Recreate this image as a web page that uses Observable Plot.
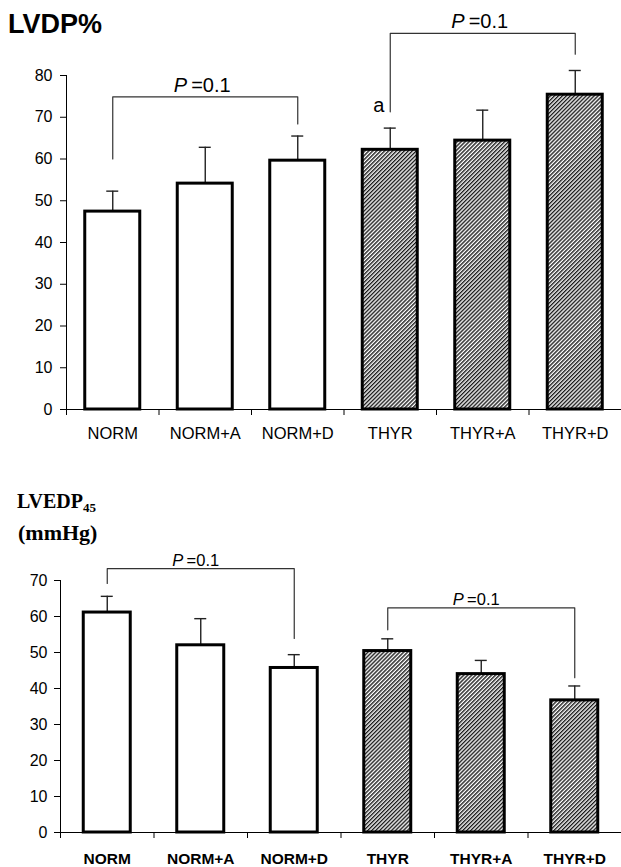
<!DOCTYPE html>
<html><head><meta charset="utf-8">
<script src="https://cdn.jsdelivr.net/npm/d3@7"></script>
<script src="https://cdn.jsdelivr.net/npm/@observablehq/plot@0.6"></script>
<style>
body{margin:0;background:#fff;}
#wrap{position:relative;width:621px;height:867px;overflow:hidden;background:#fff;font-family:"Liberation Sans",Arial,sans-serif;color:#000;}
.abs{position:absolute;line-height:1;white-space:nowrap;}
#wrap svg{overflow:visible;}
</style></head><body>
<div id="wrap">
<svg width="0" height="0" style="position:absolute"><defs>
<pattern id="hatch" patternUnits="userSpaceOnUse" width="2.8" height="2.8" patternTransform="rotate(45)">
<rect width="2.8" height="2.8" fill="#ffffff"/><rect width="1.4" height="2.8" fill="#1a1a1a"/>
</pattern></defs></svg>
<div class="abs" style="left:8px;top:11px;font-size:27px;font-weight:bold;font-family:'Liberation Sans',Arial,sans-serif;">LVDP%</div>
<div class="abs" style="left:17px;top:491px;font-size:20px;font-weight:bold;font-family:'Liberation Serif','Times New Roman',serif;">LVEDP<sub style="font-size:13px;vertical-align:-4px;">45</sub></div>
<div class="abs" style="left:18px;top:522px;font-size:22px;font-weight:bold;font-family:'Liberation Serif','Times New Roman',serif;">(mmHg)</div>
<div class="abs" id="top" style="left:0;top:0;"></div>
<div class="abs" id="bottom" style="left:0;top:540px;"></div>
</div>
<script>
// ---- data ----
const categories = ["NORM", "NORM+A", "NORM+D", "THYR", "THYR+A", "THYR+D"];
const groups = ["NORM", "NORM", "NORM", "THYR", "THYR", "THYR"];
const lvdpMean = [47.4, 54.1, 59.6, 62.2, 64.4, 75.4];
const lvdpSem = [4.9, 8.7, 5.9, 5.2, 7.3, 5.8];
const lvedpMean = [61.1, 52.0, 45.7, 50.4, 44.0, 36.7];
const lvedpSem = [4.5, 7.4, 3.7, 3.4, 3.8, 4.0];
const lvdpTicks = [0, 10, 20, 30, 40, 50, 60, 70, 80];
const lvedpTicks = [0, 10, 20, 30, 40, 50, 60, 70];
const lvdpBrackets = [
  {from: "NORM", to: "NORM+D", y: 74.9, fromEnd: 60.0, toEnd: 68.4, p: "0.1"},
  {from: "THYR", to: "THYR+D", y: 90.1, fromEnd: 71.3, toEnd: 85.1, p: "0.1"}
];
const lvedpBrackets = [
  {from: "NORM", to: "NORM+D", y: 73.3, fromEnd: 69.2, toEnd: 53.9, p: "0.1"},
  {from: "THYR", to: "THYR+D", y: 62.4, fromEnd: 56.3, toEnd: 43.0, p: "0.1"}
];
const lvdpNotes = [{cat: "THYR", y: 71.3, text: "a"}];
const lvedpNotes = [];

function chart(cfg) {
  const W = 621;
  const bandPx = (W - cfg.marginLeft) / categories.length;
  const idx = c => categories.indexOf(c);
  const rows = categories.map((c, i) => ({cat: c, i, g: groups[i], mean: cfg.mean[i], top: cfg.mean[i] + cfg.sem[i]}));
  const capHalf = 6 / bandPx;
  const pts = [];
  cfg.brackets.forEach((b, k) => {
    const a = idx(b.from) + 0.5, z = idx(b.to) + 0.5;
    pts.push({k, x: a, y: b.fromEnd}, {k, x: a, y: b.y}, {k, x: z, y: b.y}, {k, x: z, y: b.toEnd});
  });
  const mid = b => (idx(b.from) + idx(b.to)) / 2 + 0.5;
  const fs = cfg.pFont;
  const pW = 0.667 * fs, restW = 1.974 * fs, gap = 0.2 * fs;
  const tot = pW + gap + restW;
  return Plot.plot({
    width: W, height: cfg.height,
    marginLeft: cfg.marginLeft, marginRight: 0,
    marginTop: cfg.marginTop, marginBottom: cfg.marginBottom,
    style: {fontFamily: "'Liberation Sans', Arial, sans-serif", fontSize: "15px", color: "#000", background: "transparent", overflow: "visible"},
    x: {type: "linear", domain: [0, categories.length]},
    y: {domain: [0, cfg.yMax]},
    marks: [
      Plot.ruleX(rows, {x: d => d.i + 0.5, y1: "mean", y2: "top", stroke: "#222", strokeWidth: 1.4}),
      Plot.ruleY(rows, {y: "top", x1: d => d.i + 0.5 - capHalf, x2: d => d.i + 0.5 + capHalf, stroke: "#222", strokeWidth: 1.4}),
      Plot.rect(rows.filter(d => d.g === "NORM"), {x1: d => d.i, x2: d => d.i + 1, y1: 0, y2: "mean", insetLeft: cfg.inset, insetRight: cfg.inset, fill: "white", stroke: "black", strokeWidth: 3}),
      Plot.rect(rows.filter(d => d.g === "THYR"), {x1: d => d.i, x2: d => d.i + 1, y1: 0, y2: "mean", insetLeft: cfg.inset, insetRight: cfg.inset, fill: "url(#hatch)", stroke: "black", strokeWidth: 3}),
      Plot.ruleY([0], {stroke: "black", strokeWidth: 1}),
      Plot.ruleX([0], {y1: 0, y2: cfg.yMax, stroke: "black", strokeWidth: 1}),
      Plot.axisY({ticks: cfg.ticks, tickSize: 6, tickPadding: cfg.yPad, label: null, fontSize: 16, stroke: "black"}),
      Plot.axisX({ticks: d3.range(categories.length + 1), tickFormat: () => "", tickSize: 6, label: null, stroke: "black"}),
      Plot.axisX({ticks: categories.map((c, i) => i + 0.5), tickFormat: v => categories[Math.floor(v)], tickSize: 0, tickPadding: cfg.xPad, label: null, fontSize: cfg.xFont, fontWeight: cfg.xWeight}),
      Plot.line(pts, {x: "x", y: "y", z: "k", stroke: "#333", strokeWidth: 1.2}),
      Plot.text(cfg.brackets, {x: mid, y: "y", text: () => "P", textAnchor: "start", dx: -tot / 2 + cfg.pShift, dy: cfg.pDy, lineAnchor: "bottom", fontSize: fs, fontStyle: "italic", fill: "black"}),
      Plot.text(cfg.brackets, {x: mid, y: "y", text: d => "=" + d.p, textAnchor: "start", dx: -tot / 2 + pW + gap + cfg.pShift, dy: cfg.pDy, lineAnchor: "bottom", fontSize: fs, fill: "black"}),
      Plot.text(cfg.notes, {x: d => idx(d.cat) + 0.5, y: "y", text: "text", dx: -11.5, lineAnchor: "bottom", fontSize: 20, fill: "black"})
    ]
  });
}

document.getElementById("top").appendChild(chart({
  mean: lvdpMean, sem: lvdpSem, ticks: lvdpTicks, yMax: 80, brackets: lvdpBrackets, notes: lvdpNotes,
  height: 450, marginLeft: 66, marginTop: 75, marginBottom: 41, inset: 18.75, yPad: 8,
  xPad: 18, xFont: 16.5, xWeight: "normal", pFont: 20, pDy: -5, pShift: -3
}));
document.getElementById("bottom").appendChild(chart({
  mean: lvedpMean, sem: lvedpSem, ticks: lvedpTicks, yMax: 70, brackets: lvedpBrackets, notes: lvedpNotes,
  height: 327, marginLeft: 60, marginTop: 40, marginBottom: 35, inset: 23.25, yPad: 7,
  xPad: 20, xFont: 15.5, xWeight: "bold", pFont: 16.5, pDy: -3, pShift: -5
}));
</script>
</body></html>
